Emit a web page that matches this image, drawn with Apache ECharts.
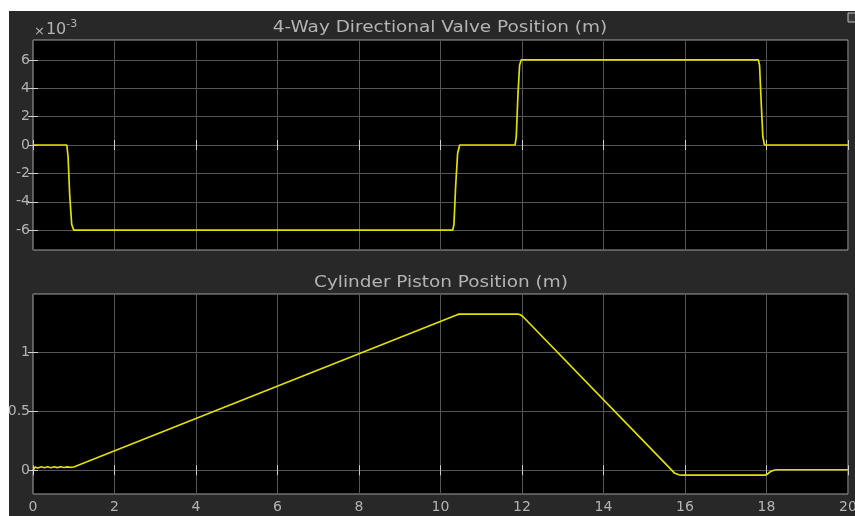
<!DOCTYPE html>
<html>
<head>
<meta charset="utf-8">
<script src="https://cdn.jsdelivr.net/npm/echarts@6/dist/echarts.min.js"></script>
<style>
html,body{margin:0;padding:0;background:#ffffff;}
#c{width:855px;height:516px;}
</style>
</head>
<body>
<div id="c"></div>
<script>
// Valve position (units of 1e-3 m)
var valveT = [0, 0.83, 0.86, 0.9, 0.95, 1.0, 10.3, 10.33, 10.37, 10.42, 10.47, 11.83, 11.86, 11.9, 11.94, 11.98, 17.8, 17.83, 17.87, 17.91, 17.95, 20];
var valveV = [0, 0, -0.8, -3.5, -5.6, -6, -6, -5.6, -3, -0.6, 0, 0, 0.6, 3.5, 5.6, 6, 6, 5.6, 3, 0.6, 0, 0];

// Cylinder piston position (m)
var pistonT = [0, 0.05, 0.12, 0.2, 0.28, 0.36, 0.44, 0.52, 0.6, 0.68, 0.76, 0.84, 0.92, 1.0, 10.38, 10.45, 10.52, 11.9, 11.96, 12.02, 15.65, 15.75, 15.85, 15.95, 17.97, 18.03, 18.1, 18.2, 18.3, 20];
var pistonV = [0, 0.028, 0.02, 0.03, 0.022, 0.03, 0.022, 0.03, 0.023, 0.03, 0.024, 0.029, 0.025, 0.028, 1.31, 1.32, 1.32, 1.32, 1.315, 1.3, 0.01, -0.025, -0.038, -0.04, -0.04, -0.03, -0.01, 0.003, 0.005, 0.005];

var xTicks = [0, 2, 4, 6, 8, 10, 12, 14, 16, 18, 20];
var valveTicks = [-6, -4, -2, 0, 2, 4, 6];
var pistonTicks = [0, 0.5, 1];

var title1 = '4-Way Directional Valve Position (m)';
var title2 = 'Cylinder Piston Position (m)';

function zip(a, b) { return a.map(function (v, i) { return [v, b[i]]; }); }

var chart = echarts.init(document.getElementById('c'), null, { renderer: 'canvas' });

var txt = '#b4b4b4';
var gridLine = '#555555';
var border = '#a0a0a0';
var font = 'DejaVu Sans';

function xAxisBase(gi, pos, labels) {
  return {
    type: 'value', gridIndex: gi, position: pos, min: 0, max: 20, interval: 2,
    axisLine: { show: false },
    axisTick: { show: true, inside: true, length: 5, lineStyle: { color: '#d0d0d0' }, customValues: xTicks },
    axisLabel: { show: labels, color: txt, fontSize: 14, fontFamily: font, margin: 6, customValues: xTicks },
    splitLine: { show: pos === 'bottom', lineStyle: { color: gridLine, width: 1 } }
  };
}
function yAxisBase(gi, pos, min, max, ticks, labels) {
  return {
    type: 'value', gridIndex: gi, position: pos, min: min, max: max,
    axisLine: { show: false },
    axisTick: { show: true, inside: true, length: 5, lineStyle: { color: '#d0d0d0' }, customValues: ticks },
    axisLabel: { show: labels, color: txt, fontSize: 14, fontFamily: font, margin: 3, customValues: ticks },
    splitLine: { show: pos === 'left', lineStyle: { color: gridLine, width: 1 } }
  };
}

var option = {
  backgroundColor: '#ffffff',
  animation: false,
  graphic: [
    { type: 'rect', z: -10, silent: true, shape: { x: 9, y: 11, width: 846, height: 505 }, style: { fill: '#282828' } },
    { type: 'rect', z: 100, silent: true, shape: { x: 0, y: 0, width: 9, height: 516 }, style: { fill: '#ffffff' } },
    { type: 'rect', z: 100, silent: true, shape: { x: 848, y: 13, width: 9, height: 9 }, style: { fill: '#3a3a3a', stroke: '#c0c0c0', lineWidth: 1 } },
    { type: 'text', z: 50, x: 440, y: 28, scaleX: 1.23, silent: true,
      style: { text: title1, fill: txt, fontSize: 15, fontFamily: font, align: 'center', verticalAlign: 'middle' } },
    { type: 'text', z: 50, x: 441, y: 283, scaleX: 1.23, silent: true,
      style: { text: title2, fill: txt, fontSize: 15, fontFamily: font, align: 'center', verticalAlign: 'middle' } },
    { type: 'text', z: 50, left: 34, top: 19, silent: true,
      style: { text: '{a|×}{b|10}{c|-3}', rich: {
        a: { fill: txt, fontSize: 13, fontFamily: font, verticalAlign: 'bottom', padding: [0, 1, 0, 0] },
        b: { fill: txt, fontSize: 16, fontFamily: font, verticalAlign: 'bottom' },
        c: { fill: txt, fontSize: 11, fontFamily: font, verticalAlign: 'top', padding: [0, 0, 8, 0] }
      } } }
  ],
  grid: [
    { left: 33, right: 7, top: 40, height: 210, show: true, backgroundColor: '#000000', borderColor: border, borderWidth: 1, outerBoundsMode: 'none', containLabel: false },
    { left: 33, right: 7, top: 294, height: 200, show: true, backgroundColor: '#000000', borderColor: border, borderWidth: 1, outerBoundsMode: 'none', containLabel: false }
  ],
  xAxis: [
    xAxisBase(0, 'bottom', false),
    xAxisBase(0, 'top', false),
    xAxisBase(1, 'bottom', true),
    xAxisBase(1, 'top', false)
  ],
  yAxis: [
    yAxisBase(0, 'left', -7.4, 7.4, valveTicks, true),
    yAxisBase(0, 'right', -7.4, 7.4, valveTicks, false),
    yAxisBase(1, 'left', -0.2, 1.49, pistonTicks, true),
    yAxisBase(1, 'right', -0.2, 1.49, pistonTicks, false)
  ],
  series: [
    { type: 'line', xAxisIndex: 0, yAxisIndex: 0, data: zip(valveT, valveV), showSymbol: false, smooth: false,
      lineStyle: { color: '#e0e000', width: 1.7 } },
    { type: 'line', xAxisIndex: 2, yAxisIndex: 2, data: zip(pistonT, pistonV), showSymbol: false, smooth: false,
      lineStyle: { color: '#e0e000', width: 1.7 } }
  ]
};
chart.setOption(option);
</script>
</body>
</html>
